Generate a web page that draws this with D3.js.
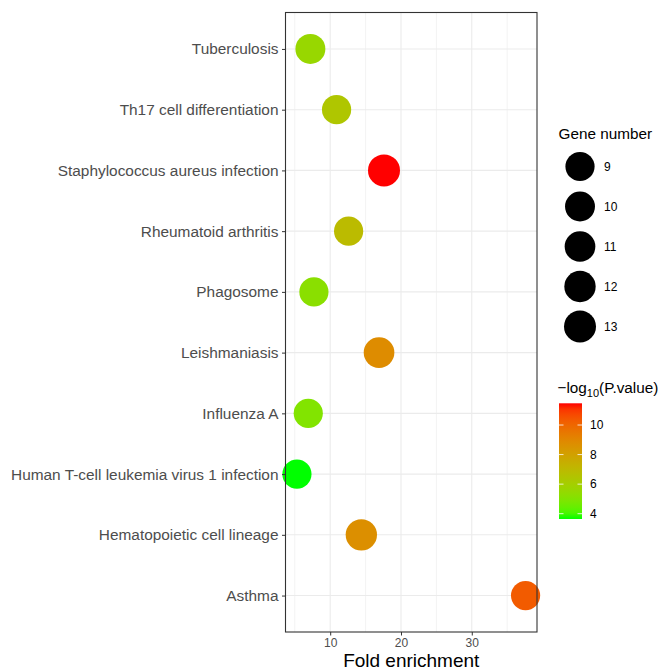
<!DOCTYPE html>
<html>
<head>
<meta charset="utf-8">
<script src="https://cdn.jsdelivr.net/npm/d3@7"></script>
<style>
  body { margin: 0; background: #fff; }
  svg { display: block; font-family: "Liberation Sans", Arial, sans-serif; }
</style>
</head>
<body>
<svg id="chart" width="663" height="670"></svg>
<script>
// KEGG pathway enrichment
const pathways = [
  "Tuberculosis",
  "Th17 cell differentiation",
  "Staphylococcus aureus infection",
  "Rheumatoid arthritis",
  "Phagosome",
  "Leishmaniasis",
  "Influenza A",
  "Human T-cell leukemia virus 1 infection",
  "Hematopoietic cell lineage",
  "Asthma"
];
const foldEnrichment = [7.2, 10.9, 17.6, 12.6, 7.7, 16.9, 6.9, 5.3, 14.4, 37.6];
const negLog10P      = [5.6, 6.4, 11.47, 6.9, 5.2, 8.8, 5.0, 3.64, 8.7, 10.3];
const geneNumber     = [10, 9, 13, 9, 9, 11, 9, 9, 12, 9];
const xTicks = [10, 20, 30];
const sizeBreaks = [9, 10, 11, 12, 13];
const colorBreaks = [4, 6, 8, 10];

const svg = d3.select("#chart");
const panel = { left: 285.5, right: 537, top: 12.5, bottom: 632 };

// x domain with 5% expansion
const [xmin, xmax] = d3.extent(foldEnrichment);
const xpad = (xmax - xmin) * 0.05;
const x = d3.scaleLinear().domain([xmin - xpad, xmax + xpad]).range([panel.left, panel.right]);

const y = d3.scalePoint().domain(pathways).range([panel.top, panel.bottom]).padding(0.6);

const pExtent = d3.extent(negLog10P);
const color = d3.scaleLinear().domain(pExtent).range(["#00ff00", "#ff0000"]).interpolate(d3.interpolateLab);

const gExtent = d3.extent(geneNumber);
const radius = d3.scaleSqrt().domain(gExtent).range([14.6, 16.0]);

// panel background and grid
svg.append("rect").attr("x", panel.left).attr("y", panel.top)
  .attr("width", panel.right - panel.left).attr("height", panel.bottom - panel.top)
  .attr("fill", "#fff");

const minor = [5, 15, 25, 35].filter(v => v > x.domain()[0] && v < x.domain()[1]);
svg.append("g").selectAll("line").data(minor).join("line")
  .attr("x1", d => x(d)).attr("x2", d => x(d))
  .attr("y1", panel.top).attr("y2", panel.bottom)
  .attr("stroke", "#f3f3f3").attr("stroke-width", 1);
svg.append("g").selectAll("line").data(xTicks).join("line")
  .attr("x1", d => x(d)).attr("x2", d => x(d))
  .attr("y1", panel.top).attr("y2", panel.bottom)
  .attr("stroke", "#ebebeb").attr("stroke-width", 1.1);
svg.append("g").selectAll("line").data(pathways).join("line")
  .attr("x1", panel.left).attr("x2", panel.right)
  .attr("y1", d => y(d)).attr("y2", d => y(d))
  .attr("stroke", "#ebebeb").attr("stroke-width", 1.1);

// points
svg.append("g").selectAll("circle").data(pathways).join("circle")
  .attr("cx", (d, i) => x(foldEnrichment[i]))
  .attr("cy", d => y(d))
  .attr("r", (d, i) => radius(geneNumber[i]))
  .attr("fill", (d, i) => color(negLog10P[i]));

// panel border
svg.append("rect").attr("x", panel.left).attr("y", panel.top)
  .attr("width", panel.right - panel.left).attr("height", panel.bottom - panel.top)
  .attr("fill", "none").attr("stroke", "#333").attr("stroke-width", 1.1);

// axes
const xAxis = svg.append("g").attr("transform", `translate(0,${panel.bottom})`)
  .call(d3.axisBottom(x).tickValues(xTicks).tickSize(3.5).tickPadding(3));
xAxis.select(".domain").remove();
xAxis.selectAll("line").attr("stroke", "#333");
xAxis.selectAll("text").attr("fill", "#4d4d4d").style("font-size", "12px");

const yAxis = svg.append("g").attr("transform", `translate(${panel.left},0)`)
  .call(d3.axisLeft(y).tickSize(3.5).tickPadding(3.5));
yAxis.select(".domain").remove();
yAxis.selectAll("line").attr("stroke", "#333");
yAxis.selectAll("text").attr("fill", "#4d4d4d").style("font-size", "15.4px");

svg.append("text").attr("x", (panel.left + panel.right) / 2).attr("y", 667)
  .attr("text-anchor", "middle").style("font-size", "19px").attr("fill", "#000")
  .text("Fold enrichment");

// size legend
const sl = svg.append("g");
sl.append("text").attr("x", 558.5).attr("y", 139).style("font-size", "15.3px").text("Gene number");
sizeBreaks.forEach((b, i) => {
  const cy = 166.5 + i * 40;
  sl.append("circle").attr("cx", 580).attr("cy", cy).attr("r", radius(b)).attr("fill", "#000");
  sl.append("text").attr("x", 604).attr("y", cy + 4).style("font-size", "12px").text(b);
});

// colour legend
const cl = svg.append("g");
const title = cl.append("text").attr("x", 557.5).attr("y", 393).style("font-size", "15.3px");
title.append("tspan").text("\u2212log");
title.append("tspan").attr("dy", 4).style("font-size", "11px").text("10");
title.append("tspan").attr("dy", -4).text("(P.value)");

const bar = { x: 559, w: 23, top: 403.3, bottom: 519 };
const cbar = d3.scaleLinear().domain(pExtent).range([bar.bottom, bar.top]);
const grad = svg.append("defs").append("linearGradient").attr("id", "pgrad")
  .attr("x1", 0).attr("y1", 1).attr("x2", 0).attr("y2", 0);
d3.range(0, 1.0001, 0.05).forEach(t => {
  grad.append("stop").attr("offset", t)
    .attr("stop-color", color(pExtent[0] + t * (pExtent[1] - pExtent[0])));
});
cl.append("rect").attr("x", bar.x).attr("y", bar.top).attr("width", bar.w)
  .attr("height", bar.bottom - bar.top).attr("fill", "url(#pgrad)");
colorBreaks.forEach(b => {
  const yy = cbar(b);
  cl.append("line").attr("x1", bar.x).attr("x2", bar.x + 4.5).attr("y1", yy).attr("y2", yy)
    .attr("stroke", "#fff").attr("stroke-opacity", 0.8);
  cl.append("line").attr("x1", bar.x + bar.w - 4.5).attr("x2", bar.x + bar.w).attr("y1", yy).attr("y2", yy)
    .attr("stroke", "#fff").attr("stroke-opacity", 0.8);
  cl.append("text").attr("x", 590).attr("y", yy + 4).style("font-size", "12px").text(b);
});
</script>
</body>
</html>
